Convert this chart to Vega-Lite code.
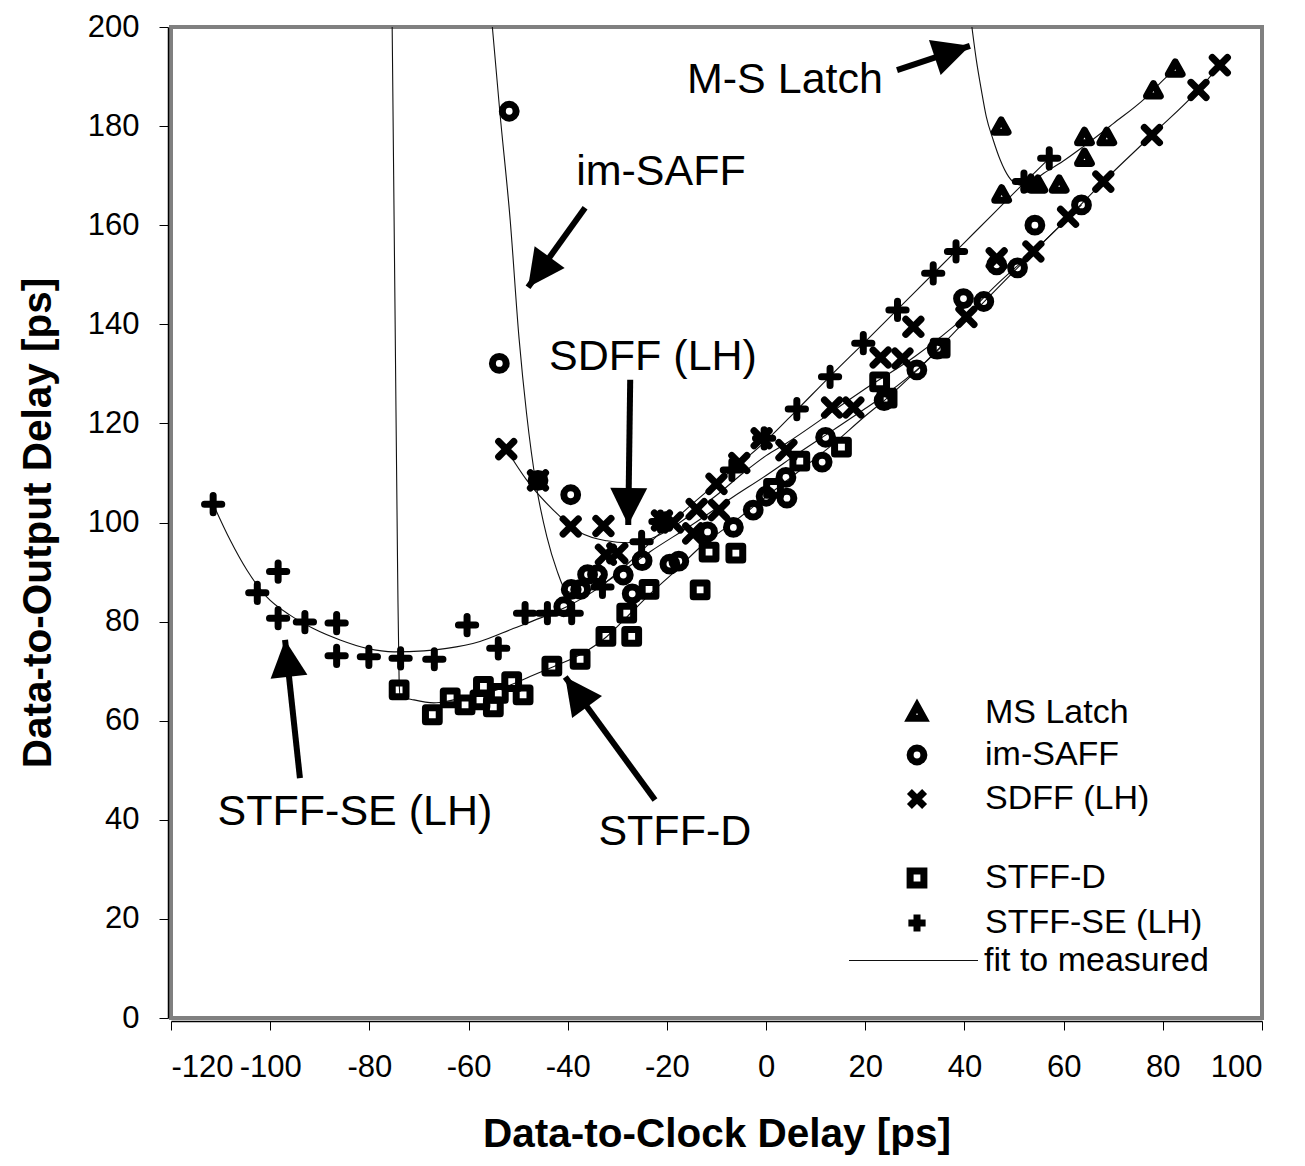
{
  "$schema": "https://vega.github.io/schema/vega-lite/v6.json",
  "autosize": {"type": "none"},
  "padding": {"left": 171, "top": 27, "right": 43, "bottom": 148},
  "width": 1091,
  "height": 991,
  "background": "white",
  "config": {
    "view": {"stroke": "#808080", "strokeWidth": 4},
    "axis": {
      "grid": false,
      "domainColor": "black",
      "domainWidth": 1.5,
      "tickColor": "black",
      "tickSize": 9,
      "tickWidth": 1,
      "labelFont": "Liberation Sans",
      "labelFontSize": 31,
      "labelColor": "black",
      "labelOverlap": false,
      "labelExpr": "toString(datum.value)",
      "titleFont": "Liberation Sans",
      "titleFontWeight": "bold",
      "titleFontSize": 40.5,
      "titleColor": "black",
      "offset": 3
    },
    "legend": {
      "labelFont": "Liberation Sans",
      "labelFontSize": 34,
      "labelColor": "black",
      "labelLimit": 0
    }
  },
  "datasets": {
    "points": [
      {"s": "MS Latch", "x": 47.4, "y": 179.8},
      {"s": "MS Latch", "x": 47.5, "y": 166.1},
      {"s": "MS Latch", "x": 53.4, "y": 168.3},
      {"s": "MS Latch", "x": 54.8, "y": 168.1},
      {"s": "MS Latch", "x": 59.1, "y": 168.1},
      {"s": "MS Latch", "x": 64.2, "y": 173.5},
      {"s": "MS Latch", "x": 64.2, "y": 177.7},
      {"s": "MS Latch", "x": 68.7, "y": 177.7},
      {"s": "MS Latch", "x": 78.1, "y": 187.1},
      {"s": "MS Latch", "x": 82.5, "y": 191.5},

      {"s": "im-SAFF", "x": -51.8, "y": 183.0},
      {"s": "im-SAFF", "x": -53.8, "y": 132.1},
      {"s": "im-SAFF", "x": -46.0, "y": 108.5},
      {"s": "im-SAFF", "x": -39.4, "y": 105.6},
      {"s": "im-SAFF", "x": -40.8, "y": 83.0},
      {"s": "im-SAFF", "x": -39.3, "y": 86.5},
      {"s": "im-SAFF", "x": -37.4, "y": 86.5},
      {"s": "im-SAFF", "x": -36.0, "y": 89.5},
      {"s": "im-SAFF", "x": -34.0, "y": 89.5},
      {"s": "im-SAFF", "x": -28.8, "y": 89.4},
      {"s": "im-SAFF", "x": -27.0, "y": 85.6},
      {"s": "im-SAFF", "x": -25.0, "y": 92.3},
      {"s": "im-SAFF", "x": -19.4, "y": 91.6},
      {"s": "im-SAFF", "x": -17.6, "y": 92.2},
      {"s": "im-SAFF", "x": -11.8, "y": 98.1},
      {"s": "im-SAFF", "x": -6.6, "y": 99.0},
      {"s": "im-SAFF", "x": -2.6, "y": 102.5},
      {"s": "im-SAFF", "x": 0.0, "y": 105.3},
      {"s": "im-SAFF", "x": 4.2, "y": 104.9},
      {"s": "im-SAFF", "x": 4.0, "y": 109.1},
      {"s": "im-SAFF", "x": 11.3, "y": 112.2},
      {"s": "im-SAFF", "x": 12.0, "y": 117.2},
      {"s": "im-SAFF", "x": 23.8, "y": 124.6},
      {"s": "im-SAFF", "x": 30.4, "y": 130.8},
      {"s": "im-SAFF", "x": 34.5, "y": 135.0},
      {"s": "im-SAFF", "x": 39.8, "y": 145.2},
      {"s": "im-SAFF", "x": 43.9, "y": 144.6},
      {"s": "im-SAFF", "x": 46.5, "y": 152.0},
      {"s": "im-SAFF", "x": 50.7, "y": 151.4},
      {"s": "im-SAFF", "x": 54.2, "y": 160.0},
      {"s": "im-SAFF", "x": 63.6, "y": 164.1},

      {"s": "SDFF (LH)", "x": -52.4, "y": 114.8},
      {"s": "SDFF (LH)", "x": -46.0, "y": 108.5},
      {"s": "SDFF (LH)", "x": -39.4, "y": 99.2},
      {"s": "SDFF (LH)", "x": -32.8, "y": 99.3},
      {"s": "SDFF (LH)", "x": -32.3, "y": 93.5},
      {"s": "SDFF (LH)", "x": -30.0, "y": 93.8},
      {"s": "SDFF (LH)", "x": -21.0, "y": 100.4},
      {"s": "SDFF (LH)", "x": -18.8, "y": 100.0},
      {"s": "SDFF (LH)", "x": -14.0, "y": 102.7},
      {"s": "SDFF (LH)", "x": -14.7, "y": 97.8},
      {"s": "SDFF (LH)", "x": -10.0, "y": 107.8},
      {"s": "SDFF (LH)", "x": -9.5, "y": 102.5},
      {"s": "SDFF (LH)", "x": -5.4, "y": 112.0},
      {"s": "SDFF (LH)", "x": -0.9, "y": 117.0},
      {"s": "SDFF (LH)", "x": 4.1, "y": 114.6},
      {"s": "SDFF (LH)", "x": 13.3, "y": 123.2},
      {"s": "SDFF (LH)", "x": 17.6, "y": 123.2},
      {"s": "SDFF (LH)", "x": 23.1, "y": 133.3},
      {"s": "SDFF (LH)", "x": 27.5, "y": 133.1},
      {"s": "SDFF (LH)", "x": 29.7, "y": 139.5},
      {"s": "SDFF (LH)", "x": 40.4, "y": 141.5},
      {"s": "SDFF (LH)", "x": 46.5, "y": 153.3},
      {"s": "SDFF (LH)", "x": 53.9, "y": 154.7},
      {"s": "SDFF (LH)", "x": 60.9, "y": 161.7},
      {"s": "SDFF (LH)", "x": 68.0, "y": 168.8},
      {"s": "SDFF (LH)", "x": 77.8, "y": 178.2},
      {"s": "SDFF (LH)", "x": 87.2, "y": 187.3},
      {"s": "SDFF (LH)", "x": 91.5, "y": 192.3},

      {"s": "STFF-D", "x": -74.0, "y": 66.2},
      {"s": "STFF-D", "x": -67.3, "y": 61.2},
      {"s": "STFF-D", "x": -63.7, "y": 64.6},
      {"s": "STFF-D", "x": -60.7, "y": 63.2},
      {"s": "STFF-D", "x": -57.7, "y": 64.2},
      {"s": "STFF-D", "x": -57.0, "y": 66.9},
      {"s": "STFF-D", "x": -55.0, "y": 62.8},
      {"s": "STFF-D", "x": -54.0, "y": 65.5},
      {"s": "STFF-D", "x": -51.3, "y": 67.9},
      {"s": "STFF-D", "x": -49.0, "y": 65.2},
      {"s": "STFF-D", "x": -43.2, "y": 71.0},
      {"s": "STFF-D", "x": -37.5, "y": 72.4},
      {"s": "STFF-D", "x": -32.3, "y": 77.0},
      {"s": "STFF-D", "x": -27.1, "y": 77.0},
      {"s": "STFF-D", "x": -28.1, "y": 81.7},
      {"s": "STFF-D", "x": -23.6, "y": 86.5},
      {"s": "STFF-D", "x": -13.3, "y": 86.4},
      {"s": "STFF-D", "x": -11.5, "y": 94.0},
      {"s": "STFF-D", "x": -6.1, "y": 93.8},
      {"s": "STFF-D", "x": 1.5, "y": 106.9},
      {"s": "STFF-D", "x": 6.8, "y": 112.4},
      {"s": "STFF-D", "x": 15.2, "y": 115.2},
      {"s": "STFF-D", "x": 22.9, "y": 128.4},
      {"s": "STFF-D", "x": 24.4, "y": 125.1},
      {"s": "STFF-D", "x": 35.1, "y": 135.2},

      {"s": "STFF-SE (LH)", "x": -111.5, "y": 103.7},
      {"s": "STFF-SE (LH)", "x": -102.6, "y": 85.8},
      {"s": "STFF-SE (LH)", "x": -98.4, "y": 90.1},
      {"s": "STFF-SE (LH)", "x": -98.4, "y": 80.7},
      {"s": "STFF-SE (LH)", "x": -93.0, "y": 79.9},
      {"s": "STFF-SE (LH)", "x": -86.6, "y": 79.7},
      {"s": "STFF-SE (LH)", "x": -86.6, "y": 73.1},
      {"s": "STFF-SE (LH)", "x": -80.1, "y": 72.9},
      {"s": "STFF-SE (LH)", "x": -73.7, "y": 72.6},
      {"s": "STFF-SE (LH)", "x": -66.9, "y": 72.4},
      {"s": "STFF-SE (LH)", "x": -60.3, "y": 79.3},
      {"s": "STFF-SE (LH)", "x": -54.0, "y": 74.6},
      {"s": "STFF-SE (LH)", "x": -48.6, "y": 81.7},
      {"s": "STFF-SE (LH)", "x": -44.1, "y": 81.7},
      {"s": "STFF-SE (LH)", "x": -39.2, "y": 81.7},
      {"s": "STFF-SE (LH)", "x": -33.0, "y": 87.0},
      {"s": "STFF-SE (LH)", "x": -25.1, "y": 96.1},
      {"s": "STFF-SE (LH)", "x": -21.3, "y": 100.2},
      {"s": "STFF-SE (LH)", "x": -6.9, "y": 110.6},
      {"s": "STFF-SE (LH)", "x": -0.4, "y": 117.0},
      {"s": "STFF-SE (LH)", "x": 6.2, "y": 122.9},
      {"s": "STFF-SE (LH)", "x": 12.9, "y": 129.4},
      {"s": "STFF-SE (LH)", "x": 19.6, "y": 136.2},
      {"s": "STFF-SE (LH)", "x": 26.5, "y": 142.9},
      {"s": "STFF-SE (LH)", "x": 33.7, "y": 150.3},
      {"s": "STFF-SE (LH)", "x": 38.3, "y": 154.7},
      {"s": "STFF-SE (LH)", "x": 52.0, "y": 168.8},
      {"s": "STFF-SE (LH)", "x": 57.1, "y": 173.5}
    ],
    "fits": [
      {"s": "MS Latch", "x": 41.5, "y": 200},
      {"s": "MS Latch", "x": 42.4, "y": 193.3},
      {"s": "MS Latch", "x": 43.4, "y": 187.3},
      {"s": "MS Latch", "x": 44.4, "y": 181.9},
      {"s": "MS Latch", "x": 45.8, "y": 177.2},
      {"s": "MS Latch", "x": 47.2, "y": 173.2},
      {"s": "MS Latch", "x": 48.9, "y": 169.8},
      {"s": "MS Latch", "x": 50.5, "y": 168.3},
      {"s": "MS Latch", "x": 52.0, "y": 168.0},
      {"s": "MS Latch", "x": 56.0, "y": 170.5},
      {"s": "MS Latch", "x": 60.0, "y": 173.0},
      {"s": "MS Latch", "x": 63.9, "y": 175.8},
      {"s": "MS Latch", "x": 70.0, "y": 180.5},
      {"s": "MS Latch", "x": 76.4, "y": 185.6},
      {"s": "MS Latch", "x": 80.8, "y": 190.0},
      {"s": "MS Latch", "x": 82.5, "y": 191.5},

      {"s": "im-SAFF", "x": -55.2, "y": 200},
      {"s": "im-SAFF", "x": -53.7, "y": 183.0},
      {"s": "im-SAFF", "x": -51.6, "y": 161.0},
      {"s": "im-SAFF", "x": -49.8, "y": 137.0},
      {"s": "im-SAFF", "x": -48.3, "y": 122.0},
      {"s": "im-SAFF", "x": -46.3, "y": 107.2},
      {"s": "im-SAFF", "x": -44.2, "y": 97.1},
      {"s": "im-SAFF", "x": -42.2, "y": 90.4},
      {"s": "im-SAFF", "x": -40.5, "y": 86.5},
      {"s": "im-SAFF", "x": -38.0, "y": 85.5},
      {"s": "im-SAFF", "x": -34.0, "y": 87.0},
      {"s": "im-SAFF", "x": -30.0, "y": 89.5},
      {"s": "im-SAFF", "x": -23.4, "y": 94.1},
      {"s": "im-SAFF", "x": -15.0, "y": 99.5},
      {"s": "im-SAFF", "x": -6.6, "y": 105.2},
      {"s": "im-SAFF", "x": 0.0, "y": 109.5},
      {"s": "im-SAFF", "x": 6.5, "y": 114.0},
      {"s": "im-SAFF", "x": 13.6, "y": 118.7},
      {"s": "im-SAFF", "x": 20.0, "y": 123.0},
      {"s": "im-SAFF", "x": 25.0, "y": 126.5},
      {"s": "im-SAFF", "x": 30.4, "y": 130.8},
      {"s": "im-SAFF", "x": 40.0, "y": 140.5},
      {"s": "im-SAFF", "x": 50.7, "y": 151.4},
      {"s": "im-SAFF", "x": 63.6, "y": 164.1},

      {"s": "SDFF (LH)", "x": -52.4, "y": 114.8},
      {"s": "SDFF (LH)", "x": -48.3, "y": 108.6},
      {"s": "SDFF (LH)", "x": -42.9, "y": 102.5},
      {"s": "SDFF (LH)", "x": -37.5, "y": 98.0},
      {"s": "SDFF (LH)", "x": -32.1, "y": 96.3},
      {"s": "SDFF (LH)", "x": -28.0, "y": 95.9},
      {"s": "SDFF (LH)", "x": -24.0, "y": 96.5},
      {"s": "SDFF (LH)", "x": -20.0, "y": 98.3},
      {"s": "SDFF (LH)", "x": -15.3, "y": 101.5},
      {"s": "SDFF (LH)", "x": -10.0, "y": 105.5},
      {"s": "SDFF (LH)", "x": -4.0, "y": 110.5},
      {"s": "SDFF (LH)", "x": 0.0, "y": 113.5},
      {"s": "SDFF (LH)", "x": 4.1, "y": 116.0},
      {"s": "SDFF (LH)", "x": 10.0, "y": 120.0},
      {"s": "SDFF (LH)", "x": 13.5, "y": 122.5},
      {"s": "SDFF (LH)", "x": 20.0, "y": 127.0},
      {"s": "SDFF (LH)", "x": 30.0, "y": 133.5},
      {"s": "SDFF (LH)", "x": 40.0, "y": 141.5},
      {"s": "SDFF (LH)", "x": 46.5, "y": 148.0},
      {"s": "SDFF (LH)", "x": 53.9, "y": 154.7},
      {"s": "SDFF (LH)", "x": 60.9, "y": 161.5},
      {"s": "SDFF (LH)", "x": 68.0, "y": 168.8},
      {"s": "SDFF (LH)", "x": 77.8, "y": 178.2},
      {"s": "SDFF (LH)", "x": 87.2, "y": 187.3},
      {"s": "SDFF (LH)", "x": 91.5, "y": 192.3},

      {"s": "STFF-D", "x": -75.4, "y": 200},
      {"s": "STFF-D", "x": -74.8, "y": 140},
      {"s": "STFF-D", "x": -74.3, "y": 90},
      {"s": "STFF-D", "x": -74.0, "y": 68},
      {"s": "STFF-D", "x": -73.8, "y": 65.0},
      {"s": "STFF-D", "x": -71.0, "y": 64.2},
      {"s": "STFF-D", "x": -67.0, "y": 63.6},
      {"s": "STFF-D", "x": -63.0, "y": 64.2},
      {"s": "STFF-D", "x": -57.7, "y": 65.2},
      {"s": "STFF-D", "x": -52.3, "y": 66.9},
      {"s": "STFF-D", "x": -47.6, "y": 68.9},
      {"s": "STFF-D", "x": -42.9, "y": 70.9},
      {"s": "STFF-D", "x": -37.5, "y": 73.3},
      {"s": "STFF-D", "x": -32.1, "y": 77.0},
      {"s": "STFF-D", "x": -28.0, "y": 81.0},
      {"s": "STFF-D", "x": -24.0, "y": 85.0},
      {"s": "STFF-D", "x": -18.0, "y": 90.5},
      {"s": "STFF-D", "x": -13.3, "y": 95.0},
      {"s": "STFF-D", "x": -6.0, "y": 100.5},
      {"s": "STFF-D", "x": 0.0, "y": 105.2},
      {"s": "STFF-D", "x": 6.8, "y": 110.5},
      {"s": "STFF-D", "x": 12.9, "y": 115.3},
      {"s": "STFF-D", "x": 20.0, "y": 121.5},
      {"s": "STFF-D", "x": 24.4, "y": 125.1},
      {"s": "STFF-D", "x": 30.0, "y": 130.3},
      {"s": "STFF-D", "x": 35.1, "y": 135.2},

      {"s": "STFF-SE (LH)", "x": -111.5, "y": 103.7},
      {"s": "STFF-SE (LH)", "x": -108.1, "y": 96.5},
      {"s": "STFF-SE (LH)", "x": -104.7, "y": 90.4},
      {"s": "STFF-SE (LH)", "x": -100.7, "y": 85.0},
      {"s": "STFF-SE (LH)", "x": -96.0, "y": 81.3},
      {"s": "STFF-SE (LH)", "x": -91.3, "y": 78.6},
      {"s": "STFF-SE (LH)", "x": -85.9, "y": 76.3},
      {"s": "STFF-SE (LH)", "x": -80.5, "y": 74.6},
      {"s": "STFF-SE (LH)", "x": -75.0, "y": 73.9},
      {"s": "STFF-SE (LH)", "x": -69.0, "y": 74.1},
      {"s": "STFF-SE (LH)", "x": -64.4, "y": 74.6},
      {"s": "STFF-SE (LH)", "x": -57.7, "y": 76.0},
      {"s": "STFF-SE (LH)", "x": -51.0, "y": 78.6},
      {"s": "STFF-SE (LH)", "x": -45.6, "y": 80.7},
      {"s": "STFF-SE (LH)", "x": -40.2, "y": 83.0},
      {"s": "STFF-SE (LH)", "x": -33.5, "y": 87.0},
      {"s": "STFF-SE (LH)", "x": -27.0, "y": 92.5},
      {"s": "STFF-SE (LH)", "x": -20.7, "y": 98.5},
      {"s": "STFF-SE (LH)", "x": -14.0, "y": 104.5},
      {"s": "STFF-SE (LH)", "x": -7.0, "y": 110.5},
      {"s": "STFF-SE (LH)", "x": 0.0, "y": 116.5},
      {"s": "STFF-SE (LH)", "x": 6.2, "y": 122.7},
      {"s": "STFF-SE (LH)", "x": 12.9, "y": 129.5},
      {"s": "STFF-SE (LH)", "x": 20.0, "y": 136.5},
      {"s": "STFF-SE (LH)", "x": 26.5, "y": 143.0},
      {"s": "STFF-SE (LH)", "x": 33.7, "y": 150.2},
      {"s": "STFF-SE (LH)", "x": 40.0, "y": 156.5},
      {"s": "STFF-SE (LH)", "x": 46.0, "y": 162.5},
      {"s": "STFF-SE (LH)", "x": 52.0, "y": 168.5},
      {"s": "STFF-SE (LH)", "x": 57.1, "y": 173.5}
    ],
    "notes": [
      {"label": "M-S Latch", "x": 3.8, "y": 189.3},
      {"label": "im-SAFF", "x": -21.2, "y": 170.7},
      {"label": "SDFF (LH)", "x": -22.8, "y": 133.4},
      {"label": "STFF-SE (LH)", "x": -82.9, "y": 41.6},
      {"label": "STFF-D", "x": -18.4, "y": 37.5}
    ],
    "arrows": [
      {"x": 26.4, "y": 191.3, "x2": 41.1, "y2": 196.2},
      {"x": -36.5, "y": 163.5, "x2": -48.0, "y2": 147.5},
      {"x": -27.4, "y": 128.8, "x2": -27.8, "y2": 99.5},
      {"x": -94.0, "y": 48.4, "x2": -97.0, "y2": 76.3},
      {"x": -22.4, "y": 44.0, "x2": -40.5, "y2": 68.8}
    ]
  },
  "layer": [
    {
      "data": {"name": "fits"},
      "mark": {"type": "line", "interpolate": "monotone", "strokeWidth": 1.1, "clip": true},
      "encoding": {
        "x": {"field": "x", "type": "quantitative",
              "scale": {"domain": [-120, 100], "nice": false, "zero": false},
              "axis": {"values": [-120, -100, -80, -60, -40, -20, 0, 20, 40, 60, 80, 100], "labelPadding": 22, "title": "Data-to-Clock Delay [ps]", "titlePadding": 32}},
        "y": {"field": "y", "type": "quantitative",
              "scale": {"domain": [0, 200], "nice": false},
              "axis": {"values": [0, 20, 40, 60, 80, 100, 120, 140, 160, 180, 200], "labelPadding": 20, "title": "Data-to-Output Delay [ps]", "titlePadding": 28}},
        "detail": {"field": "s"},
        "color": {"datum": "fit to measured", "type": "nominal",
                  "scale": {"range": ["#111111"]},
                  "legend": {"orient": "none", "legendX": 677, "legendY": 868, "title": null,
                             "symbolSize": 16641, "symbolStrokeWidth": 1.2, "labelOffset": 5,
                             "labelFontSize": 34, "labelFont": "Liberation Sans", "labelLimit": 0}}
      }
    },
    {
      "data": {"name": "points"},
      "mark": {"type": "point", "filled": false, "strokeWidth": 7, "strokeCap": "round", "strokeJoin": "round", "opacity": 1, "color": "black", "size": 190},
      "encoding": {
        "x": {"field": "x", "type": "quantitative"},
        "y": {"field": "y", "type": "quantitative"},
        "shape": {"field": "s", "type": "nominal",
                  "scale": {"domain": ["MS Latch", "im-SAFF", "SDFF (LH)", " ", "STFF-D", "STFF-SE (LH)"],
                            "range": ["M0,-1.05L1,0.75L-1,0.75Z", "circle", "M-1.1,-1.1L1.1,1.1M-1.1,1.1L1.1,-1.1", "M0,0", "square", "M-1.25,0L1.25,0M0,-1.25L0,1.25"]},
                  "legend": {"orient": "none", "legendX": 729, "legendY": 669, "title": null,
                             "symbolSize": 190, "symbolStrokeWidth": 7, "symbolStrokeColor": "black",
                             "symbolFillColor": "transparent", "labelOffset": 51, "rowPadding": 1,
                             "labelFontSize": 34, "labelFont": "Liberation Sans", "labelLimit": 0}}
      }
    },
    {
      "data": {"name": "arrows"},
      "mark": {"type": "rule", "strokeWidth": 6, "color": "black"},
      "encoding": {
        "x": {"field": "x", "type": "quantitative"},
        "y": {"field": "y", "type": "quantitative"},
        "x2": {"field": "x2"},
        "y2": {"field": "y2"}
      }
    },
    {
      "data": {"name": "arrows"},
      "transform": [{"calculate": "atan2(datum.x2 - datum.x, datum.y2 - datum.y) * 180 / PI", "as": "dir"}],
      "mark": {"type": "point", "shape": "M0,0L-0.5,1L0.5,1Z", "filled": true, "color": "black", "opacity": 1, "size": 5476},
      "encoding": {
        "x": {"field": "x2", "type": "quantitative"},
        "y": {"field": "y2", "type": "quantitative"},
        "angle": {"field": "dir", "type": "quantitative", "scale": null}
      }
    },
    {
      "data": {"name": "notes"},
      "mark": {"type": "text", "font": "Liberation Sans", "fontSize": 43, "align": "center", "baseline": "middle", "color": "black"},
      "encoding": {
        "x": {"field": "x", "type": "quantitative"},
        "y": {"field": "y", "type": "quantitative"},
        "text": {"field": "label"}
      }
    }
  ]
}
